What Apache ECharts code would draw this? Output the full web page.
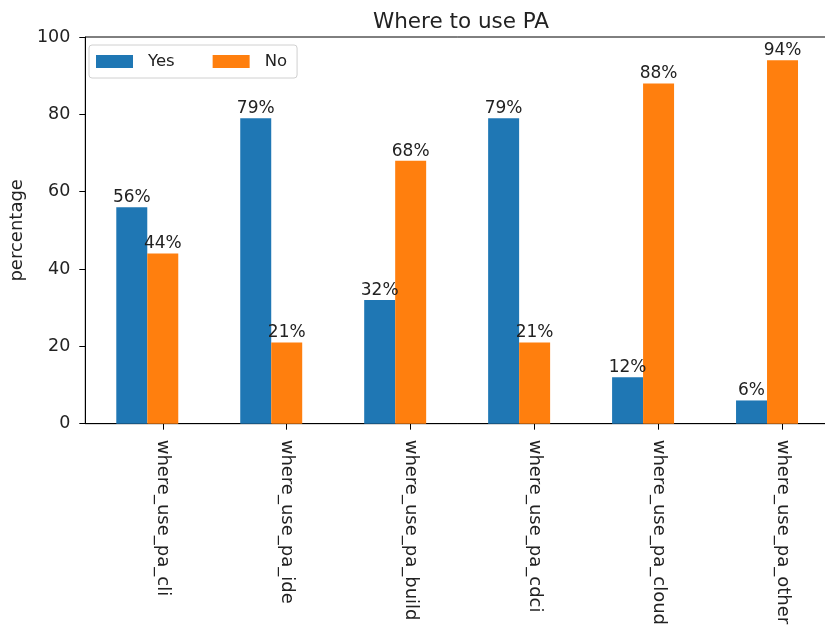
<!DOCTYPE html>
<html>
<head>
<meta charset="utf-8">
<script src="https://cdn.jsdelivr.net/npm/echarts@6/dist/echarts.min.js"></script>
<style>
  html, body { margin: 0; padding: 0; background: #fff; overflow: hidden; }
  /* the plot runs a few pixels past the frame, so the right spine is clipped */
  #frame { width: 825px; height: 628px; overflow: hidden; position: relative; }
  #chart { width: 832px; height: 628px; position: absolute; left: 0; top: 0; }
</style>
</head>
<body>
<div id="frame"><div id="chart"></div></div>
<script>
// Survey answers: share of respondents (percent) per usage place
const categories = ['where_use_pa_cli', 'where_use_pa_ide', 'where_use_pa_build',
                    'where_use_pa_cdci', 'where_use_pa_cloud', 'where_use_pa_other'];
const yesValues = [56, 79, 32, 79, 12, 6];
const noValues  = [44, 21, 68, 21, 88, 94];
const yTicks = [0, 20, 40, 60, 80, 100];

const FONT = 'DejaVu Sans';
const TEXT = '#222';

// Tick/label axis: 8 steps per category, ticks sit on the "No" bar centres
const STEPS = 8, OFFSET = 5;
const tickAxisData = [];
for (let j = 0; j <= categories.length * STEPS; j++) {
  const i = (j - OFFSET) / STEPS;
  tickAxisData.push(Number.isInteger(i) && i >= 0 && i < categories.length ? categories[i] : '');
}
const isTick = idx => idx % STEPS === OFFSET && idx < categories.length * STEPS;

const chart = echarts.init(document.getElementById('chart'), null, { renderer: 'canvas' });

const barLabel = {
  show: true, position: 'top', distance: 1,
  fontFamily: FONT, fontSize: 17, color: TEXT,
  formatter: p => p.value + '%'
};

const GRID_LEFT = 83, GRID_WIDTH = 746;

chart.setOption({
  animation: false,
  backgroundColor: '#fff',
  title: {
    text: 'Where to use PA', left: GRID_LEFT + GRID_WIDTH / 2, top: 6, textAlign: 'center',
    textStyle: { fontFamily: FONT, fontSize: 21.5, fontWeight: 'normal', color: TEXT }
  },
  legend: {
    left: 89, top: 45, orient: 'horizontal',
    icon: 'rect', itemWidth: 37, itemHeight: 13, itemGap: 38,
    padding: [8, 10, 8, 7],
    borderColor: '#d0d0d0', borderWidth: 1, borderRadius: 3,
    backgroundColor: 'rgba(255,255,255,0.8)',
    textStyle: { fontFamily: FONT, fontSize: 16.5, color: TEXT, lineHeight: 17, padding: [0, 0, 0, 10] },
    data: ['Yes', 'No']
  },
  grid: {
    left: GRID_LEFT, width: GRID_WIDTH, top: 37, bottom: 202,
    show: true, borderColor: '#000', borderWidth: 1, backgroundColor: 'transparent'
  },
  xAxis: [
    {
      type: 'category', data: categories, position: 'bottom',
      axisLine: { show: true, lineStyle: { color: '#000', width: 1 } },
      axisTick: { show: false }, axisLabel: { show: false }, splitLine: { show: false }
    },
    {
      type: 'category', data: tickAxisData, boundaryGap: false, position: 'bottom',
      axisLine: { show: false },
      axisTick: { show: true, interval: isTick, length: 6, lineStyle: { color: '#000', width: 1 } },
      axisLabel: {
        show: true, interval: isTick, rotate: -90, margin: 16,
        fontFamily: FONT, fontSize: 18, color: TEXT
      },
      splitLine: { show: false }
    }
  ],
  yAxis: {
    type: 'value', min: 0, max: 100, interval: 20,
    name: 'percentage', nameLocation: 'middle', nameGap: 56, nameRotate: 90,
    nameTextStyle: { fontFamily: FONT, fontSize: 18, color: TEXT },
    axisLine: { show: true, lineStyle: { color: '#000', width: 1 } },
    axisTick: { show: true, length: 6, inside: false, lineStyle: { color: '#000' } },
    axisLabel: {
      fontFamily: FONT, fontSize: 17.5, color: TEXT, margin: 15,
      formatter: v => (yTicks.includes(v) ? String(v) : '')
    },
    splitLine: { show: false }
  },
  series: [
    {
      name: 'Yes', type: 'bar', xAxisIndex: 0, data: yesValues,
      barWidth: '25%', barGap: '0%',
      itemStyle: { color: '#1f77b4' }, label: barLabel
    },
    {
      name: 'No', type: 'bar', xAxisIndex: 0, data: noValues,
      barWidth: '25%', barGap: '0%',
      itemStyle: { color: '#ff7f0e' }, label: barLabel
    }
  ]
});
</script>
</body>
</html>
